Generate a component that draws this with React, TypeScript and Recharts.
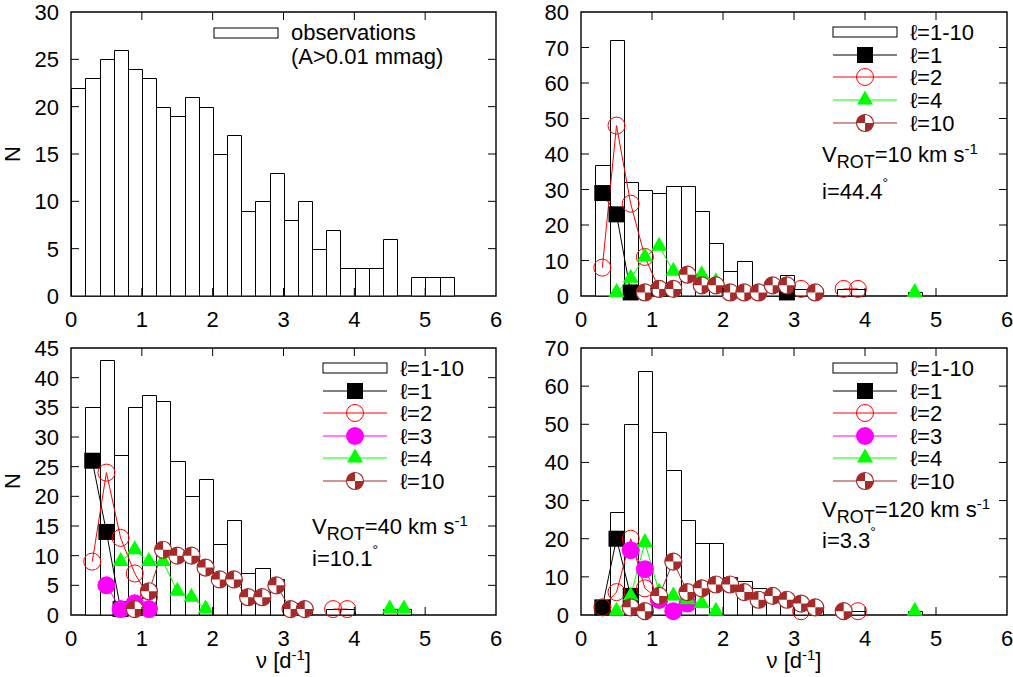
import React from "react";
import { Bar, ComposedChart, Line, ReferenceArea, XAxis, YAxis } from "recharts";

type Pt = [number, number];

// histogram bin centres (bin width 0.2 d^-1)
const BIN_CENTERS = [
  0.1, 0.3, 0.5, 0.7, 0.9, 1.1, 1.3, 1.5, 1.7, 1.9, 2.1, 2.3, 2.5, 2.7, 2.9,
  3.1, 3.3, 3.5, 3.7, 3.9, 4.1, 4.3, 4.5, 4.7, 4.9, 5.1, 5.3, 5.5, 5.7, 5.9,
];
const X_TICKS = [0, 1, 2, 3, 4, 5, 6];

// top left: observed frequencies (A>0.01 mmag)
const obsCounts = [22, 23, 25, 26, 24, 23, 20, 19, 21, 20, 15, 17, 9, 10, 13, 8, 10, 5, 7, 3, 3, 3, 6, null, 2, 2, 2];

// top right: Vrot = 10 km/s, i = 44.4
const v10All = [null, 37, 72, 32, 30, 29, 31, 31, 24, 15, 7, 10, 3, 3, 6, 2, 2, null, 2, 2, null, null, null, 1];
const v10L1: Pt[] = [[0.3, 29], [0.5, 23], [0.7, 1], [2.9, 1]];
const v10L2: Pt[] = [[0.3, 8], [0.5, 48], [0.7, 26], [0.9, 11], [1.1, 2], [3.1, 2], [3.7, 2], [3.9, 2]];
const v10L4: Pt[] = [[0.5, 1], [0.7, 5], [0.9, 11], [1.1, 14], [1.3, 7], [1.5, 6], [1.7, 6], [1.9, 4], [4.7, 1]];
const v10L10: Pt[] = [[0.9, 1], [1.1, 2], [1.3, 2], [1.5, 6], [1.7, 3], [1.9, 3], [2.1, 1], [2.3, 1], [2.5, 1], [2.7, 3], [2.9, 3], [3.3, 1]];

// bottom left: Vrot = 40 km/s, i = 10.1
const v40All = [null, 35, 43, 27, 35, 37, 36, 26, 20, 23, 12, 16, 7, 8, 6, 2, 1, null, 1, 1, null, null, 1, 1];
const v40L1: Pt[] = [[0.3, 26], [0.5, 14], [0.7, 1]];
const v40L2: Pt[] = [[0.3, 9], [0.5, 24], [0.7, 13], [0.9, 7], [1.1, 3], [3.7, 1], [3.9, 1]];
const v40L3: Pt[] = [[0.5, 5], [0.7, 1], [0.9, 2], [1.1, 1]];
const v40L4: Pt[] = [[0.7, 9], [0.9, 11], [1.1, 9], [1.3, 9], [1.5, 4], [1.7, 3], [1.9, 1], [4.5, 1], [4.7, 1]];
const v40L10: Pt[] = [[0.9, 1], [1.1, 4], [1.3, 11], [1.5, 10], [1.7, 10], [1.9, 8], [2.1, 6], [2.3, 6], [2.5, 3], [2.7, 3], [2.9, 5], [3.1, 1], [3.3, 1]];

// bottom right: Vrot = 120 km/s, i = 3.3
const v120All = [null, 3, 27, 50, 64, 48, 38, 25, 19, 19, 10, 9, 7, 6, 5, 3, 2, null, 1, 1, null, null, null, 1];
const v120L1: Pt[] = [[0.3, 2], [0.5, 20], [0.7, 5]];
const v120L2: Pt[] = [[0.3, 2], [0.5, 6], [0.7, 20], [0.9, 7], [1.1, 4], [3.1, 1], [3.9, 1]];
const v120L3: Pt[] = [[0.7, 17], [0.9, 12], [1.1, 4], [1.3, 1], [1.5, 3]];
const v120L4: Pt[] = [[0.5, 1], [0.7, 5], [0.9, 19], [1.1, 6], [1.3, 5], [1.5, 4], [1.7, 3], [1.9, 1], [4.7, 1]];
const v120L10: Pt[] = [[0.7, 2], [0.9, 1], [1.1, 5], [1.3, 14], [1.5, 6], [1.7, 7], [1.9, 8], [2.1, 8], [2.3, 6], [2.5, 4], [2.7, 5], [2.9, 4], [3.1, 3], [3.3, 2], [3.7, 1]];

const COLORS: Record<string, string> = {
  l1: "#000000",
  l2: "#ff0000",
  l3: "#ff00ff",
  l4: "#00ff00",
  l10: "#a52a2a",
};
const LABELS: Record<string, string> = { l1: "=1", l2: "=2", l3: "=3", l4: "=4", l10: "=10" };

const FONT = "'Liberation Sans', Arial, Helvetica, sans-serif";
const AXIS_W = 60;
const AXIS_H = 40;

function buildRows(bars: (number | null)[], series: Record<string, Pt[]>) {
  return BIN_CENTERS.map((x, i) => {
    const row: Record<string, number | null> = { x, bar: bars[i] ?? null };
    for (const k of Object.keys(series)) {
      const hit = series[k].find((p) => Math.abs(p[0] - x) < 1e-6);
      row[k] = hit ? hit[1] : null;
    }
    return row;
  });
}

function Mark({ kind, cx, cy }: { kind: string; cx: number; cy: number }) {
  const r = 8.5;
  switch (kind) {
    case "l1":
      return <rect x={cx - 8} y={cy - 8} width={16} height={16} fill="#000" />;
    case "l2":
      return <circle cx={cx} cy={cy} r={r} fill="none" stroke="#ff0000" strokeWidth={1} />;
    case "l3":
      return <circle cx={cx} cy={cy} r={9} fill="#ff00ff" />;
    case "l4":
      return <path d={`M${cx},${cy - 9.5}L${cx + 8},${cy + 4.5}L${cx - 8},${cy + 4.5}Z`} fill="#00ff00" />;
    default:
      return (
        <g>
          <circle cx={cx} cy={cy} r={r} fill="#fff" stroke="#a52a2a" strokeWidth={1.2} />
          <path d={`M${cx},${cy}L${cx},${cy - r}A${r},${r} 0 0 0 ${cx - r},${cy}Z`} fill="#a52a2a" />
          <path d={`M${cx},${cy}L${cx},${cy + r}A${r},${r} 0 0 0 ${cx + r},${cy}Z`} fill="#a52a2a" />
        </g>
      );
  }
}

const dotFor = (kind: string) => (p: any) => {
  const key = `${kind}-${p.index}`;
  if (p.cx == null || p.cy == null || p.value == null) return <g key={key} />;
  return (
    <g key={key}>
      <Mark kind={kind} cx={p.cx} cy={p.cy} />
    </g>
  );
};

type PanelProps = {
  left: number;
  top: number;
  width: number;
  height: number;
  plot: { left: number; top: number; w: number; h: number };
  yMax: number;
  yTicks: number[];
  bars: (number | null)[];
  series: Record<string, Pt[]>;
};

function Panel({ left, top, width, height, plot, yMax, yTicks, bars, series }: PanelProps) {
  const data = buildRows(bars, series);
  const margin = {
    top: plot.top,
    left: plot.left - AXIS_W,
    right: width - plot.left - plot.w,
    bottom: height - plot.top - plot.h - AXIS_H,
  };

  const xTick = (p: any) => {
    const v = p.payload.value;
    const edge = v === 0 || v === 6;
    return (
      <g>
        {!edge && <line x1={p.x} x2={p.x} y1={p.y} y2={p.y - 8} stroke="#000" />}
        {!edge && <line x1={p.x} x2={p.x} y1={p.y - plot.h} y2={p.y - plot.h + 8} stroke="#000" />}
        <text x={p.x} y={p.y + 31} textAnchor="middle" fontSize={22} fill="#000">
          {v}
        </text>
      </g>
    );
  };

  const yTick = (p: any) => {
    const v = p.payload.value;
    const edge = v === 0 || v === yMax;
    return (
      <g>
        {!edge && <line x1={p.x} x2={p.x + 8} y1={p.y} y2={p.y} stroke="#000" />}
        {!edge && <line x1={p.x + plot.w} x2={p.x + plot.w - 8} y1={p.y} y2={p.y} stroke="#000" />}
        <text x={p.x - 12} y={p.y + 8} textAnchor="end" fontSize={22} fill="#000">
          {v}
        </text>
      </g>
    );
  };

  // histogram box, snapped to whole pixels so neighbouring boxes share an edge
  const histBar = (p: any) => {
    if (p.value == null || !p.height) return <g />;
    const cx = p.x + p.width / 2;
    const half = plot.w / 60;
    const l = Math.round(cx - half) + 0.5;
    const r = Math.round(cx + half) + 0.5;
    const t = Math.round(p.y) + 0.5;
    const b = p.y + p.height;
    return <path d={`M${l},${b}V${t}H${r}V${b}Z`} fill="#fff" stroke="#000" strokeWidth={1} />;
  };

  return (
    <div style={{ position: "absolute", left, top, width, height }}>
      <ComposedChart width={width} height={height} data={data} margin={margin}>
        <XAxis
          dataKey="x"
          type="number"
          domain={[0, 6]}
          ticks={X_TICKS}
          interval={0}
          height={AXIS_H}
          tickSize={0}
          tickMargin={0}
          axisLine={false}
          tickLine={false}
          tick={xTick}
        />
        <YAxis
          type="number"
          domain={[0, yMax]}
          ticks={yTicks}
          interval={0}
          width={AXIS_W}
          tickSize={0}
          tickMargin={0}
          axisLine={false}
          tickLine={false}
          tick={yTick}
        />
        <Bar dataKey="bar" fill="#fff" stroke="#000" barSize={plot.w / 30} shape={histBar} isAnimationActive={false} />
        {Object.keys(series).map((k) => (
          <Line
            key={k}
            dataKey={k}
            type="linear"
            stroke={COLORS[k]}
            strokeWidth={1}
            dot={dotFor(k)}
            activeDot={false}
            connectNulls={false}
            isAnimationActive={false}
          />
        ))}
        <ReferenceArea x1={0} x2={6} y1={0} y2={yMax} fill="none" stroke="#000" strokeWidth={1.4} />
      </ComposedChart>
    </div>
  );
}

function KeyRows({ x, text, rows, keys }: { x: number; text: number; rows: number[]; keys: string[] }) {
  return (
    <g>
      {keys.map((k, i) => {
        const cy = rows[i];
        return (
          <g key={k}>
            {k === "all" ? (
              <rect x={x} y={cy - 5} width={64} height={10} fill="#fff" stroke="#000" strokeWidth={1} />
            ) : (
              <>
                <line x1={x} x2={x + 64} y1={cy} y2={cy} stroke={COLORS[k]} strokeWidth={1} />
                <Mark kind={k} cx={x + 32} cy={cy} />
              </>
            )}
            <text x={text} y={cy + 8} fontSize={22} fill="#000">
              {"ℓ" + (k === "all" ? "=1-10" : LABELS[k])}
            </text>
          </g>
        );
      })}
    </g>
  );
}

function Vrot({ x, y, v, inc, gap }: { x: number; y: number; v: string; inc: string; gap: number }) {
  return (
    <g fontSize={22} fill="#000">
      <text x={x} y={y}>
        V
        <tspan fontSize={18} dy={6}>ROT</tspan>
        <tspan dy={-6}>{`=${v} km s`}</tspan>
        <tspan fontSize={15} dy={-8}>-1</tspan>
      </text>
      <text x={x} y={y + gap}>
        {`i=${inc}`}
        <tspan fontSize={14} dy={-11}>°</tspan>
      </text>
    </g>
  );
}

function Overlay() {
  const nuLabel = (cx: number) => (
    <text x={cx} y={668} textAnchor="middle" fontSize={22} fill="#000">
      ν [d<tspan fontSize={15} dy={-8}>-1</tspan>
      <tspan dy={8}>]</tspan>
    </text>
  );
  return (
    <svg width={1013} height={677} style={{ position: "absolute", left: 0, top: 0, pointerEvents: "none" }}>
      <g fontFamily={FONT}>
        <text x={20} y={154} fontSize={22} textAnchor="middle" transform="rotate(-90 20 154)">N</text>
        <text x={20} y={481} fontSize={22} textAnchor="middle" transform="rotate(-90 20 481)">N</text>
        {nuLabel(283.5)}
        {nuLabel(794)}

        <rect x={214} y={28} width={64} height={10} fill="#fff" stroke="#000" strokeWidth={1} />
        <text x={291} y={40} fontSize={22}>observations</text>
        <text x={291} y={64} fontSize={22}>(A&gt;0.01 mmag)</text>

        <KeyRows x={833} text={910} rows={[32, 55, 77, 100, 123]} keys={["all", "l1", "l2", "l4", "l10"]} />
        <KeyRows x={323} text={400} rows={[368, 391, 413, 436, 458, 481]} keys={["all", "l1", "l2", "l3", "l4", "l10"]} />
        <KeyRows x={833} text={910} rows={[368, 391, 413, 436, 458, 481]} keys={["all", "l1", "l2", "l3", "l4", "l10"]} />

        <Vrot x={822} y={162} v="10" inc="44.4" gap={37} />
        <Vrot x={312} y={534} v="40" inc="10.1" gap={32} />
        <Vrot x={822} y={517} v="120" inc="3.3" gap={31} />
      </g>
    </svg>
  );
}

export default function App() {
  const topPlot = { left: 71, top: 12, w: 425, h: 284 };
  const topPlotR = { left: 75, top: 12, w: 426, h: 284 };
  const botPlot = { left: 71, top: 28, w: 425, h: 267 };
  const botPlotR = { left: 75, top: 28, w: 426, h: 267 };
  return (
    <div
      style={{
        position: "absolute",
        left: 0,
        top: 0,
        width: 1013,
        height: 677,
        background: "#fff",
        fontFamily: FONT,
        overflow: "hidden",
      }}
    >
      <Panel left={0} top={0} width={506} height={340} plot={topPlot} yMax={30}
        yTicks={[0, 5, 10, 15, 20, 25, 30]} bars={obsCounts} series={{}} />
      <Panel left={506} top={0} width={507} height={340} plot={topPlotR} yMax={80}
        yTicks={[0, 10, 20, 30, 40, 50, 60, 70, 80]} bars={v10All}
        series={{ l1: v10L1, l2: v10L2, l4: v10L4, l10: v10L10 }} />
      <Panel left={0} top={320} width={506} height={357} plot={botPlot} yMax={45}
        yTicks={[0, 5, 10, 15, 20, 25, 30, 35, 40, 45]} bars={v40All}
        series={{ l1: v40L1, l2: v40L2, l3: v40L3, l4: v40L4, l10: v40L10 }} />
      <Panel left={506} top={320} width={507} height={357} plot={botPlotR} yMax={70}
        yTicks={[0, 10, 20, 30, 40, 50, 60, 70]} bars={v120All}
        series={{ l1: v120L1, l2: v120L2, l3: v120L3, l4: v120L4, l10: v120L10 }} />
      <Overlay />
    </div>
  );
}
